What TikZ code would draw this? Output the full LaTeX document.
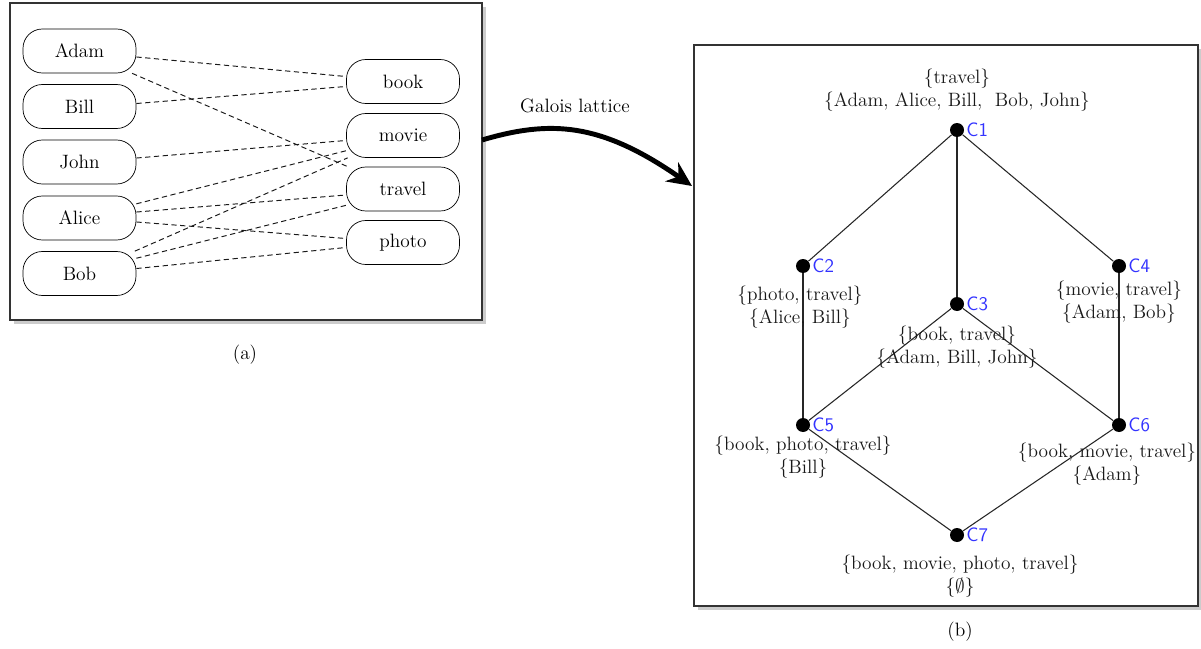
\documentclass[tikz,border=0pt]{standalone}
\usetikzlibrary{arrows.meta,shadows}
\begin{document}
\begin{tikzpicture}[x=0.02cm, y=-0.02cm, font=\fontsize{11}{13}\selectfont,
    panel/.style={draw=black!80, line width=0.8pt, fill=white, drop shadow={shadow xshift=2pt, shadow yshift=-2pt, opacity=0.4}},
    item/.style={draw, rounded corners=11pt, minimum width=2.26cm, minimum height=0.88cm, inner sep=0pt},
    link/.style={dashed, dash pattern=on 3pt off 2pt, black!90, line width=0.55pt},
    dot/.style={circle, fill=black, minimum size=0.28cm, inner sep=0pt},
    clabel/.style={blue!80, font=\sffamily\fontsize{11}{13}\selectfont, inner sep=1pt, label distance=0pt},
    setlbl/.style={align=center, inner sep=0pt, text=black!90},
    edge/.style={black!85, line width=0.6pt}]
    \useasboundingbox (0,0) rectangle (1201,649);

    % panel (a)
    \draw[panel] (10,3) rectangle (482,320);
    \node[item] (adam)  at (79.5,51)   {Adam};
    \node[item] (bill)  at (79.5,106.5) {Bill};
    \node[item] (john)  at (79.5,162)  {John};
    \node[item] (alice) at (79.5,218)  {Alice};
    \node[item] (bob)   at (79.5,273.5) {Bob};

    \node[item] (book)   at (403,81.5)  {book};
    \node[item] (movie)  at (403,135.5) {movie};
    \node[item] (travel) at (403,189)   {travel};
    \node[item] (photo)  at (403,242.5) {photo};

    \draw[link] (adam.-6)   -- (book.175);
    \draw[link] (adam.-23)  -- (travel.158);
    \draw[link] (bill.3)    -- (book.185);
    \draw[link] (john.4)    -- (movie.185);
    \draw[link] (alice.14)  -- (movie.195);
    \draw[link] (alice.6)   -- (travel.186);
    \draw[link] (alice.-4)  -- (photo.176);
    \draw[link] (bob.22)    -- (movie.202);
    \draw[link] (bob.15)    -- (travel.196);
    \draw[link] (bob.5)     -- (photo.185);

    \node (capa) at (245,355) {(a)};

    % arrow
    \node (gl) at (575,106) {Galois lattice};
    \coordinate (a0) at (482,140);
    \coordinate (a1) at (692,186);
    \draw[line width=2.8pt, -{Stealth[length=14pt,width=13pt]}] (a0) .. controls (550,120) and (600,122) .. (a1);

    % panel (b)
    \draw[panel] (694,45) rectangle (1198,606);

    \node[dot, label={[clabel]right:C1}] (c1) at (957,130) {};
    \node[dot, label={[clabel]right:C2}] (c2) at (803,266) {};
    \node[dot, label={[clabel]right:C3}] (c3) at (957,304) {};
    \node[dot, label={[clabel]right:C4}] (c4) at (1119,266) {};
    \node[dot, label={[clabel]right:C5}] (c5) at (803,425) {};
    \node[dot, label={[clabel]right:C6}] (c6) at (1119,425) {};
    \node[dot, label={[clabel]right:C7}] (c7) at (957,535) {};

    \draw[edge] (c1) -- (c2);
    \draw[edge] (c1) -- (c3);
    \draw[edge] (c1) -- (c4);
    \draw[edge] (c2) -- (c5);
    \draw[edge] (c3) -- (c5);
    \draw[edge] (c3) -- (c6);
    \draw[edge] (c4) -- (c6);
    \draw[edge] (c5) -- (c7);
    \draw[edge] (c6) -- (c7);

    \node[setlbl] (s1) at (957,90)   {\{travel\}\\\{Adam, Alice, Bill,\ \ Bob, John\}};
    \node[setlbl] (s2) at (800,307)  {\{photo, travel\}\\\{Alice, Bill\}};
    \node[setlbl] (s3) at (957,347)  {\{book, travel\}\\\{Adam, Bill, John\}};
    \node[setlbl] (s4) at (1119,302) {\{movie, travel\}\\\{Adam, Bob\}};
    \node[setlbl] (s5) at (803,457)  {\{book, photo, travel\}\\\{Bill\}};
    \node[setlbl] (s6) at (1107,464) {\{book, movie, travel\}\\\{Adam\}};
    \node[setlbl] (s7) at (960,576)  {\{book, movie, photo, travel\}\\\{$\emptyset$\}};

    \node (capb) at (960,632) {(b)};
\end{tikzpicture}
\end{document}
